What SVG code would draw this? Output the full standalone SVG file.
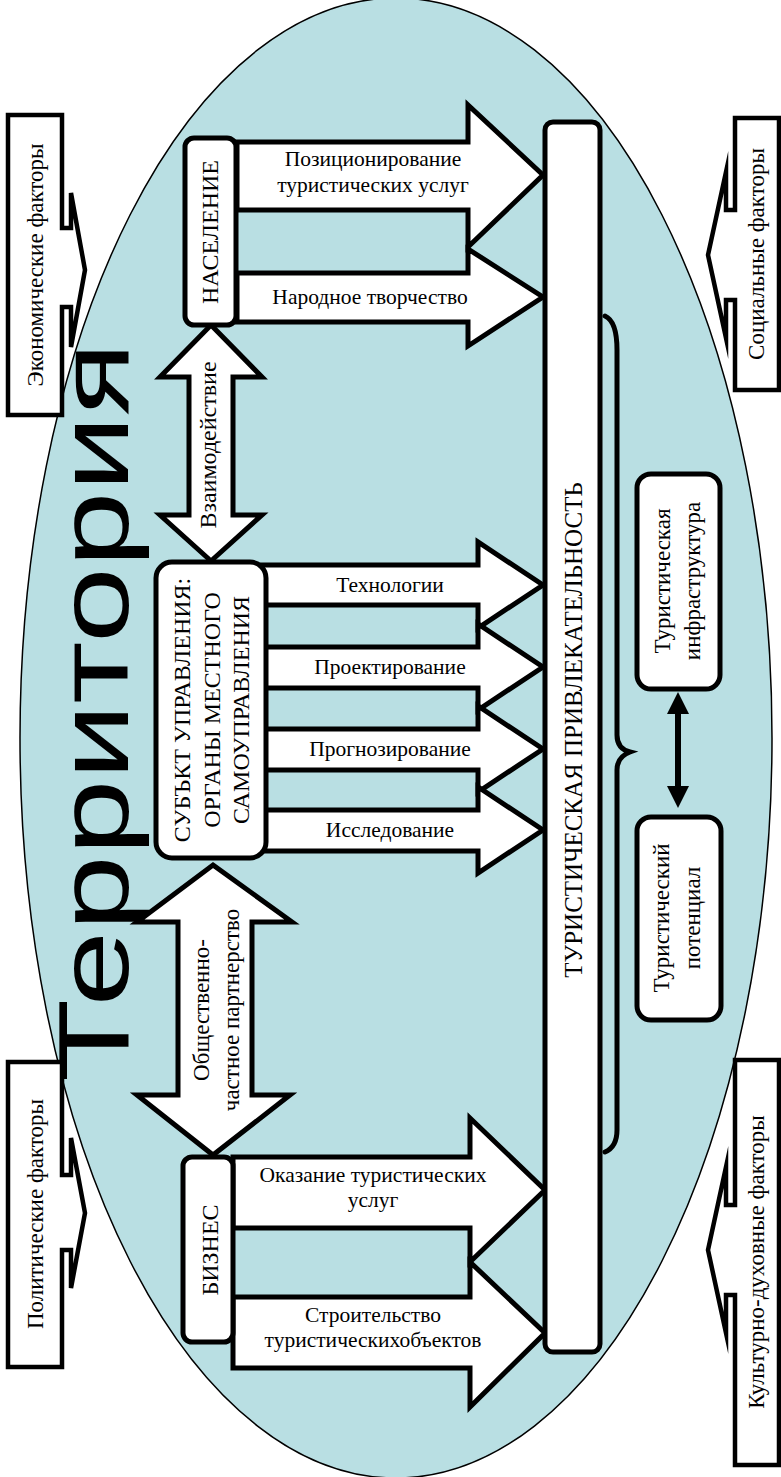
<svg xmlns="http://www.w3.org/2000/svg" width="781" height="1477" viewBox="0 0 781 1477">
<style>
.t{font-family:"Liberation Serif","Times New Roman",serif;fill:#000}
.f23{font-size:23px}
.f24{font-size:24px}
.fa{font-size:21.5px}
.shape{fill:#fff;stroke:#000;stroke-width:5;stroke-linejoin:miter;stroke-miterlimit:10}
.box{fill:#fff;stroke:#000;stroke-width:5}
.fac{fill:#fff;stroke:#000;stroke-width:4.5;stroke-linejoin:miter;stroke-miterlimit:10}
</style>
<rect width="781" height="1477" fill="#fff"/>
<g id="territory">
<ellipse cx="396" cy="738" rx="376" ry="740" fill="#B9DFE3" stroke="#000" stroke-width="1.5"/>
<text transform="translate(128,712) rotate(-90)" text-anchor="middle" textLength="740" lengthAdjust="spacingAndGlyphs" style="font-family:'Liberation Sans',Arial,sans-serif;font-size:100px">Территория</text>
</g>
<g id="factor-economic">
<path class="fac" d="M62,115 H8 V415 H62 V307 H71 V347 L85,270 L71,193 V228 H62 Z"/>
<text class="t f23" transform="translate(43,265) rotate(-90)" text-anchor="middle">Экономические факторы</text>
</g>
<g id="factor-political">
<path class="fac" d="M62,1062 H8 V1367 H62 V1250 H71 V1288 L85,1213 L71,1138 V1175 H62 Z"/>
<text class="t f23" transform="translate(43,1214) rotate(-90)" text-anchor="middle">Политические факторы</text>
</g>
<g id="factor-social">
<path class="fac" d="M735,118 H779 V390 H735 V300 H726 V338 L708,255 L726,172 V210 H735 Z"/>
<text class="t f23" transform="translate(764,254) rotate(-90)" text-anchor="middle">Социальные факторы</text>
</g>
<g id="factor-cultural">
<path class="fac" d="M735,1060 H779 V1465 H735 V1295 H726 V1333 L708,1250 L726,1167 V1205 H735 Z"/>
<text class="t f23" transform="translate(764,1262) rotate(-90)" text-anchor="middle">Культурно-духовные факторы</text>
</g>
<g id="connectors">
<g id="arrow-positioning">
<polygon class="shape" points="237,142 468,142 468,105 543,175 468,247 468,210 237,210"/>
<text class="t fa" x="373" y="166" text-anchor="middle">Позиционирование</text>
<text class="t fa" x="373" y="192" text-anchor="middle">туристических услуг</text>
</g>
<g id="arrow-folk">
<polygon class="shape" points="237,273 468,273 468,249 543,297 468,346 468,322 237,322"/>
<text class="t fa" x="370" y="304" text-anchor="middle">Народное творчество</text>
</g>
<g id="arrow-interaction">
<polygon class="shape" points="211,325 262,377 233,377 233,515 262,515 211,561 160,515 189,515 189,377 160,377"/>
<text class="t f24" transform="translate(216,445) rotate(-90)" text-anchor="middle">Взаимодействие</text>
</g>
<g id="arrow-tech">
<polygon class="shape" points="262,565 478,565 478,542 543,585 478,628 478,605 262,605"/>
<text class="t fa" x="390" y="592" text-anchor="middle">Технологии</text>
</g>
<g id="arrow-design">
<polygon class="shape" points="262,647 478,647 478,624 543,667 478,710 478,688 262,688"/>
<text class="t fa" x="390" y="674" text-anchor="middle">Проектирование</text>
</g>
<g id="arrow-forecast">
<polygon class="shape" points="262,729 478,729 478,706 543,749 478,792 478,770 262,770"/>
<text class="t fa" x="390" y="756" text-anchor="middle">Прогнозирование</text>
</g>
<g id="arrow-research">
<polygon class="shape" points="262,810 478,810 478,787 543,830 478,873 478,851 262,851"/>
<text class="t fa" x="390" y="837" text-anchor="middle">Исследование</text>
</g>
<g id="arrow-ppp">
<polygon class="shape" points="213,865 292,922 252,922 252,1095 290,1095 213,1155 137,1095 178,1095 178,922 137,922"/>
<text class="t f23" transform="translate(209,1010) rotate(-90)" text-anchor="middle">Общественно-</text>
<text class="t f23" transform="translate(239,1010) rotate(-90)" text-anchor="middle">частное партнерство</text>
</g>
<g id="arrow-services">
<polygon class="shape" points="233,1157 470,1157 470,1118 545,1190 470,1262 470,1228 233,1228"/>
<text class="t fa" x="373" y="1182" text-anchor="middle">Оказание туристических</text>
<text class="t fa" x="373" y="1207" text-anchor="middle">услуг</text>
</g>
<g id="arrow-construction">
<polygon class="shape" points="233,1297 470,1297 470,1262 545,1333 470,1407 470,1368 233,1368"/>
<text class="t fa" x="373" y="1322" text-anchor="middle">Строительство</text>
<text class="t fa" x="373" y="1347" text-anchor="middle">туристическихобъектов</text>
</g>
<path id="brace" d="M605,316 C614,320 617,333 617,350 L617,735 C617,745 622,750 630,752 C622,755 617,760 617,770 L617,1130 C617,1142 612,1149 605,1152" fill="none" stroke="#000" stroke-width="5" stroke-linecap="round"/>
<g id="arrow-infra-potential">
<line x1="678" y1="708" x2="678" y2="792" stroke="#000" stroke-width="6"/>
<polygon points="678,692 667,714 689,714" fill="#000"/>
<polygon points="678,808 667,786 689,786" fill="#000"/>
</g>
</g>
<g id="node-population">
<rect class="box" x="185" y="138" width="51" height="187" rx="9"/>
<text class="t f24" transform="translate(218,232) rotate(-90)" text-anchor="middle">НАСЕЛЕНИЕ</text>
</g>
<g id="node-subject">
<rect class="box" x="156" y="562" width="110" height="296" rx="16"/>
<text class="t f24" transform="translate(190,710) rotate(-90)" text-anchor="middle">СУБЪКТ УПРАВЛЕНИЯ:</text>
<text class="t f24" transform="translate(220,710) rotate(-90)" text-anchor="middle">ОРГАНЫ МЕСТНОГО</text>
<text class="t f24" transform="translate(249,710) rotate(-90)" text-anchor="middle">САМОУПРАВЛЕНИЯ</text>
</g>
<g id="node-business">
<rect class="box" x="183" y="1157" width="50" height="185" rx="9"/>
<text class="t f24" transform="translate(218,1250) rotate(-90)" text-anchor="middle">БИЗНЕС</text>
</g>
<g id="node-attractiveness">
<rect class="box" x="545" y="122" width="55" height="1230" rx="8"/>
<text class="t" style="font-size:25px" transform="translate(582,730) rotate(-90)" text-anchor="middle">ТУРИСТИЧЕСКАЯ ПРИВЛЕКАТЕЛЬНОСТЬ</text>
</g>
<g id="node-infrastructure">
<rect class="box" x="637" y="474" width="83" height="215" rx="14"/>
<text class="t f23" transform="translate(670,581) rotate(-90)" text-anchor="middle">Туристическая</text>
<text class="t f23" transform="translate(700,581) rotate(-90)" text-anchor="middle">инфраструктура</text>
</g>
<g id="node-potential">
<rect class="box" x="637" y="817" width="84" height="203" rx="14"/>
<text class="t f23" transform="translate(669,918) rotate(-90)" text-anchor="middle">Туристический</text>
<text class="t f23" transform="translate(700,918) rotate(-90)" text-anchor="middle">потенциал</text>
</g>
</svg>
